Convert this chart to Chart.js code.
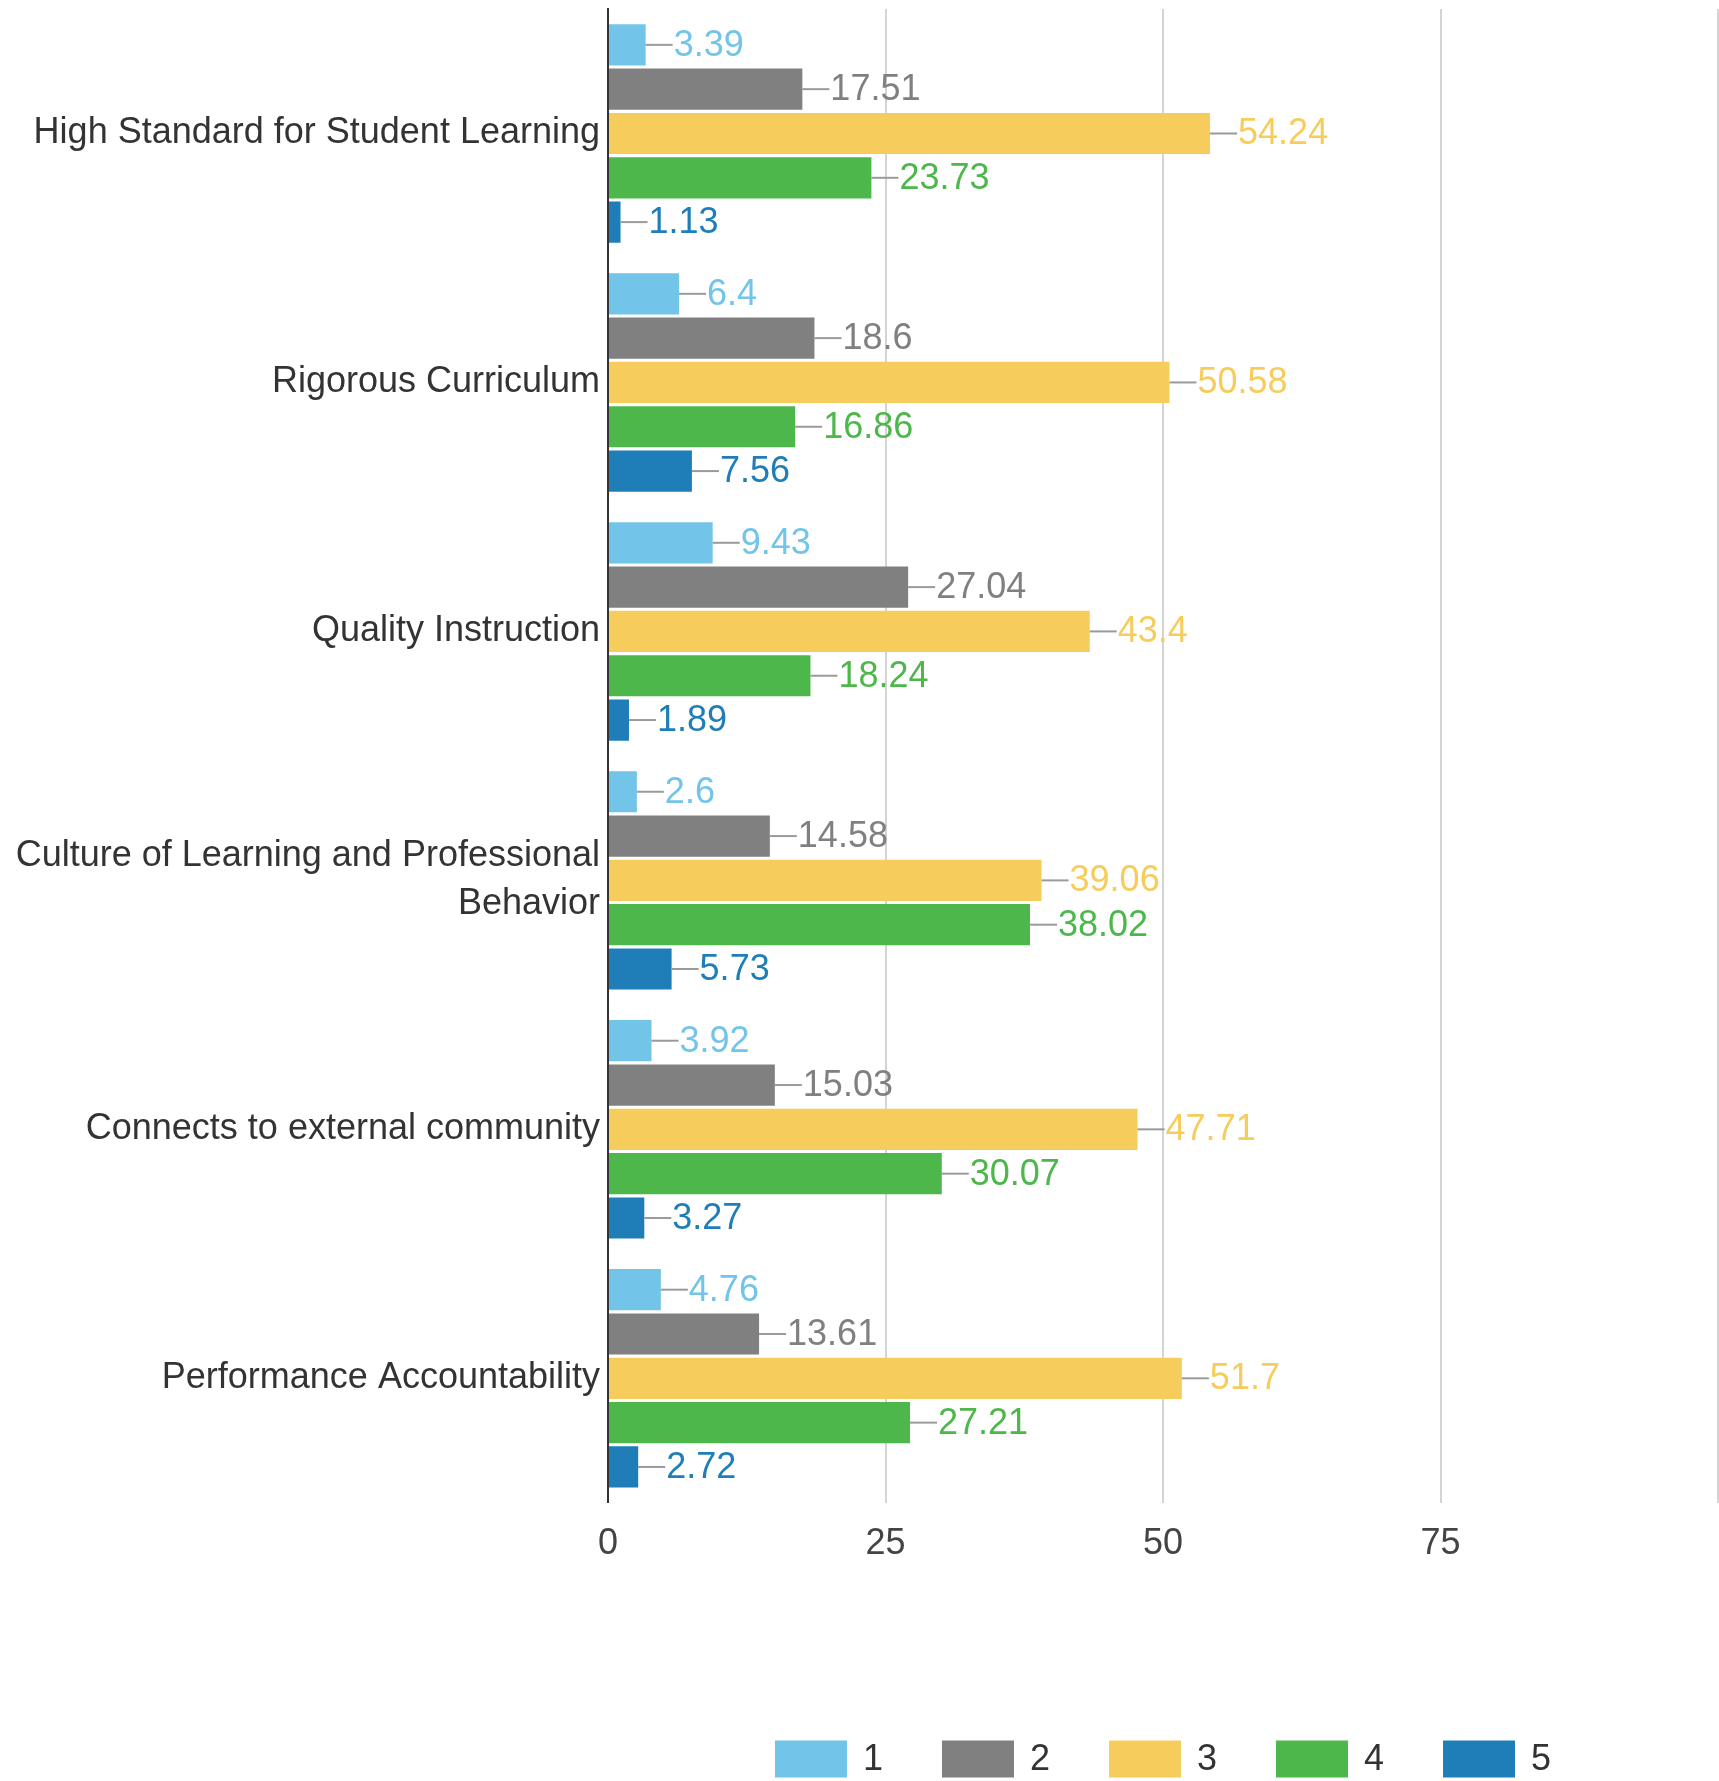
<!DOCTYPE html>
<html>
<head>
<meta charset="utf-8">
<script src="https://cdn.jsdelivr.net/npm/chart.js@4.4.1/dist/chart.umd.min.js"></script>
<style>
  html, body { margin: 0; padding: 0; background: #fff; overflow: hidden; }
  #wrap { width: 1719px; height: 1781px; position: relative; }
</style>
</head>
<body>
<div id="wrap"><canvas id="myChart"></canvas></div>
<script>
// categories and series
const categories = [
    'High Standard for Student Learning',
    'Rigorous Curriculum',
    'Quality Instruction',
    ['Culture of Learning and Professional', 'Behavior'],
    'Connects to external community',
    'Performance Accountability'
];
const seriesNames = ['1', '2', '3', '4', '5'];
const series1 = [3.39, 6.4, 9.43, 2.6, 3.92, 4.76];
const series2 = [17.51, 18.6, 27.04, 14.58, 15.03, 13.61];
const series3 = [54.24, 50.58, 43.4, 39.06, 47.71, 51.7];
const series4 = [23.73, 16.86, 18.24, 38.02, 30.07, 27.21];
const series5 = [1.13, 7.56, 1.89, 5.73, 3.27, 2.72];
const xTicks = [0, 25, 50, 75, 100];
const colors = ['#72c4e8', '#808080', '#f6cd5c', '#4db74b', '#1f7eb8'];

const FONT = '"Liberation Sans", Arial, sans-serif';

// value labels with a short leader line
const valueLabels = {
    id: 'valueLabels',
    afterDatasetsDraw(chart) {
        const c = chart.ctx;
        c.save();
        c.font = '36px ' + FONT;
        c.textBaseline = 'middle';
        c.textAlign = 'left';
        chart.data.datasets.forEach((ds, i) => {
            const meta = chart.getDatasetMeta(i);
            meta.data.forEach((bar, j) => {
                const x = bar.x, y = bar.y;
                c.strokeStyle = '#9a9a9a';
                c.lineWidth = 2;
                c.beginPath();
                c.moveTo(x, y);
                c.lineTo(x + 27, y);
                c.stroke();
                c.fillStyle = ds.backgroundColor;
                c.fillText(String(ds.data[j]), x + 28, y + 1);
            });
        });
        c.restore();
    }
};

// legend centred under the plot area
const bottomLegend = {
    id: 'bottomLegend',
    afterDraw(chart) {
        const c = chart.ctx;
        const area = chart.chartArea;
        c.save();
        c.font = '36px ' + FONT;
        c.textBaseline = 'middle';
        c.textAlign = 'left';
        const boxW = 72, boxH = 37, gapText = 16, gapItem = 59;
        const items = chart.data.datasets.map(ds => ({
            label: ds.label, color: ds.backgroundColor,
            w: boxW + gapText + c.measureText(ds.label).width
        }));
        const total = items.reduce((s, it) => s + it.w, 0) + gapItem * (items.length - 1);
        let x = (area.left + area.right) / 2 - total / 2;
        const yc = 1759;
        items.forEach(it => {
            c.fillStyle = it.color;
            c.fillRect(x, yc - boxH / 2, boxW, boxH);
            c.fillStyle = '#333';
            c.fillText(it.label, x + boxW + gapText, yc + 1);
            x += it.w + gapItem;
        });
        c.restore();
    }
};

const allSeries = [series1, series2, series3, series4, series5];

const ctx = document.getElementById('myChart');
const myChart = new Chart(ctx, {
    type: 'bar',
    data: {
        labels: categories,
        datasets: allSeries.map((d, i) => ({
            label: seriesNames[i],
            data: d,
            backgroundColor: colors[i],
            borderWidth: 0,
            categoryPercentage: 0.89,
            barPercentage: 0.93
        }))
    },
    options: {
        indexAxis: 'y',
        responsive: true,
        maintainAspectRatio: false,
        animation: false,
        layout: {
            padding: { top: 9, right: 1, bottom: 195, left: 0 }
        },
        plugins: {
            legend: { display: false },
            tooltip: { enabled: false }
        },
        scales: {
            x: {
                min: 0,
                max: 100,
                afterBuildTicks: scale => {
                    scale.ticks = xTicks.map(v => ({ value: v }));
                },
                afterFit: scale => {
                    scale.paddingLeft = 0;
                    scale.paddingRight = 0;
                },
                ticks: {
                    padding: 20,
                    color: '#444',
                    font: { family: FONT, size: 36 },
                    callback: v => (v === 100 ? '' : v)
                },
                grid: { color: '#d4d4d4', lineWidth: 2, drawTicks: false },
                border: { display: false }
            },
            y: {
                afterFit: scale => {
                    scale.width = 608;
                    scale.paddingTop = 0;
                    scale.paddingBottom = 0;
                },
                ticks: {
                    padding: 8,
                    color: '#333',
                    font: { family: FONT, size: 36, lineHeight: 1.33 }
                },
                grid: { display: false, drawTicks: false },
                border: { display: true, color: '#333', width: 2 }
            }
        }
    },
    plugins: [valueLabels, bottomLegend]
});
</script>
</body>
</html>
